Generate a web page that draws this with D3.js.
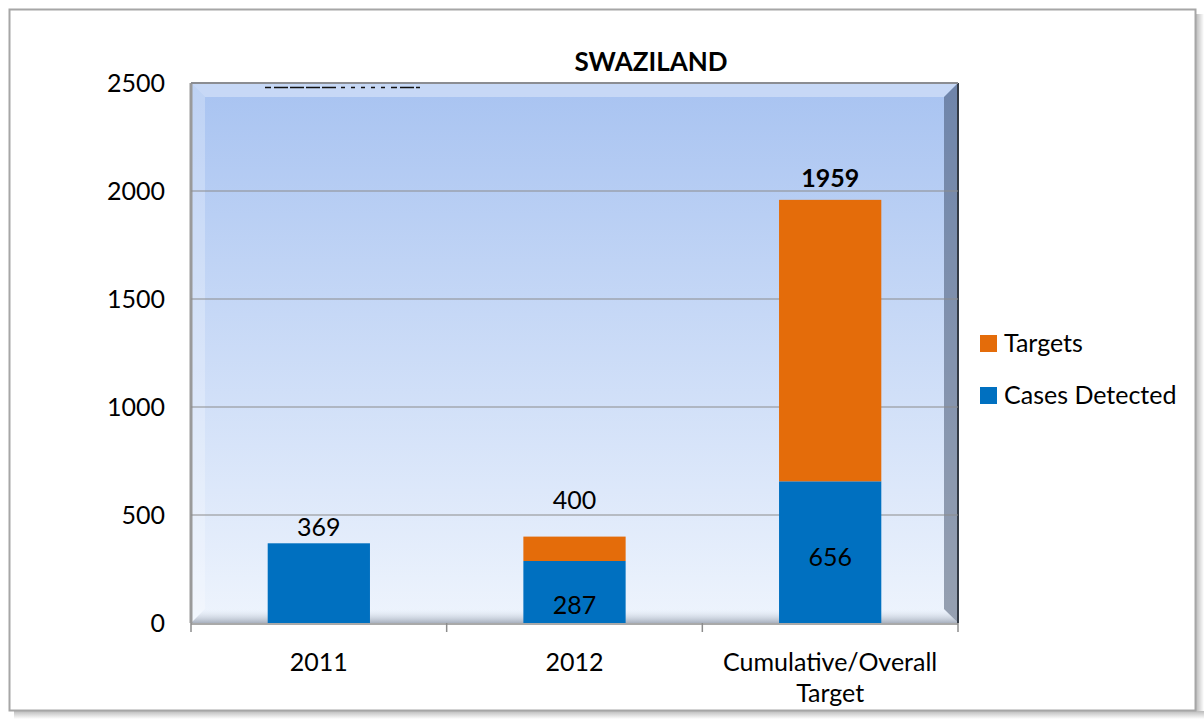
<!DOCTYPE html>
<html><head><meta charset="utf-8">
<script src="https://cdn.jsdelivr.net/npm/d3@7"></script>
<style>body{margin:0;background:#fff}svg{display:block}text{font-family:Lato,"Open Sans",sans-serif}</style>
</head><body><svg id="c" width="1204" height="719"></svg>
<script>
const categories = ["2011", "2012", "Cumulative/Overall Target"];
const casesDetected = [369, 287, 656];
const targets = [0, 113, 1303];
const totalLabels = [null, 400, 1959];
const yTicks = [0, 500, 1000, 1500, 2000, 2500];
const seriesNames = ["Targets", "Cases Detected"];
const colors = {cases: "#0070c0", targets: "#e46c0a"};
const FS = 25;

const svg = d3.select("#c");
const defs = svg.append("defs");
const g1 = defs.append("linearGradient").attr("id","bg").attr("x1",0).attr("y1",0).attr("x2",0).attr("y2",1);
g1.append("stop").attr("offset","0").attr("stop-color","#a8c3f1");
g1.append("stop").attr("offset","1").attr("stop-color","#eef4fd");
const sh = defs.append("linearGradient").attr("id","rsh").attr("x1",0).attr("x2",1);
sh.append("stop").attr("offset","0").attr("stop-color","#bbb");
sh.append("stop").attr("offset","1").attr("stop-color","#fff");
const bsh = defs.append("linearGradient").attr("id","bsh").attr("x1",0).attr("x2",0).attr("y1",0).attr("y2",1);
bsh.append("stop").attr("offset","0").attr("stop-color","#bbb");
bsh.append("stop").attr("offset","1").attr("stop-color","#fff");
const bb = defs.append("linearGradient").attr("id","bbev").attr("x1",0).attr("x2",0).attr("y1",0).attr("y2",1);
bb.append("stop").attr("offset","0").attr("stop-color","#dfe6f0").attr("stop-opacity",0);
bb.append("stop").attr("offset","1").attr("stop-color","#8a93a3").attr("stop-opacity",0.7);

// outer frame with shadow
svg.append("rect").attr("x",1196).attr("y",14).attr("width",8).attr("height",705).attr("fill","url(#rsh)");
svg.append("rect").attr("x",14).attr("y",711).attr("width",1190).attr("height",8).attr("fill","url(#bsh)");
svg.append("rect").attr("x",9.5).attr("y",9.5).attr("width",1186).attr("height",701).attr("fill","#fff").attr("stroke","#a6a6a6").attr("stroke-width",2);

const L = 191, R = 958, T = 83, B = 623;
const x = d3.scaleBand().domain(categories).range([L, R]).paddingInner(0.6).paddingOuter(0.3);
const y = d3.scaleLinear().domain([0, 2500]).range([B, T]);

// plot background with bevel
svg.append("rect").attr("x",L).attr("y",T).attr("width",R-L).attr("height",B-T).attr("fill","url(#bg)");
svg.append("polygon").attr("points",`${L},${T} ${R},${T} ${R-14},${T+14} ${L+14},${T+14}`).attr("fill","#ffffff").attr("opacity",0.35);
svg.append("polygon").attr("points",`${L},${T} ${L+14},${T+14} ${L+14},${B-14} ${L},${B}`).attr("fill","#ffffff").attr("opacity",0.25);
svg.append("polygon").attr("points",`${R},${T} ${R},${B} ${R-14},${B-14} ${R-14},${T+14}`).attr("fill","#2a3a55").attr("opacity",0.45);
svg.append("polygon").attr("points",`${L},${B} ${R},${B} ${R-14},${B-14} ${L+14},${B-14}`).attr("fill","url(#bbev)");
svg.append("line").attr("x1",L).attr("x2",L).attr("y1",T).attr("y2",B).attr("stroke","#9a9a9a").attr("stroke-width",3);
svg.append("line").attr("x1",R).attr("x2",R).attr("y1",T).attr("y2",B).attr("stroke","#333a44").attr("stroke-width",2);
svg.append("line").attr("x1",L).attr("x2",R).attr("y1",T).attr("y2",T).attr("stroke","#8a8f99").attr("stroke-width",2);

// gridlines
svg.append("g").selectAll("line").data(yTicks.filter(d=>d>0)).join("line")
  .attr("x1",L).attr("x2",R).attr("y1",d=>y(d)).attr("y2",d=>y(d)).attr("stroke","#8c8c8c").attr("stroke-width",1.2);

// truncated artifact at top
svg.append("line").attr("x1",265).attr("x2",420).attr("y1",87.5).attr("y2",87.5).attr("stroke","#111").attr("stroke-width",1.5).attr("stroke-dasharray","6,3,14,2,14,2,14,2,14,5,4,6,4,6,4,6,4,6,4,6");

// bars
const stack = categories.map((c,i)=>({c, cases:casesDetected[i], targets:targets[i]}));
const bw = x.bandwidth();
svg.append("g").selectAll("rect").data(stack).join("rect")
  .attr("x",d=>x(d.c)).attr("width",bw).attr("y",d=>y(d.cases)).attr("height",d=>B-y(d.cases)).attr("fill",colors.cases);
svg.append("g").selectAll("rect").data(stack.filter(d=>d.targets>0)).join("rect")
  .attr("x",d=>x(d.c)).attr("width",bw).attr("y",d=>y(d.cases+d.targets)).attr("height",d=>y(d.cases)-y(d.cases+d.targets)).attr("fill",colors.targets);

// axes
const yAxis = d3.axisLeft(y).tickValues(yTicks).tickSize(0).tickPadding(26).tickFormat(d3.format("d"));
const ya = svg.append("g").attr("transform",`translate(${L},0)`).call(yAxis);
ya.select(".domain").remove();
ya.selectAll("text").attr("font-size",FS).attr("fill","#000").attr("dy","0.35em").attr("font-family","Lato,'Open Sans',sans-serif");

const xb = svg.append("g");
xb.append("line").attr("x1",L).attr("x2",R).attr("y1",B+1).attr("y2",B+1).attr("stroke","#8c8c8c").attr("stroke-width",1.5);
const bounds = [L, ...categories.slice(1).map(c=>x(c)-x.step()*x.paddingInner()/2), R];
xb.selectAll("line.t").data(bounds).join("line").attr("class","t")
  .attr("x1",d=>d).attr("x2",d=>d).attr("y1",B).attr("y2",B+9).attr("stroke","#8c8c8c").attr("stroke-width",1.5);
const xlab = {"2011":["2011"],"2012":["2012"],"Cumulative/Overall Target":["Cumulative/Overall","Target"]};
categories.forEach(c=>{
  const t = xb.append("text").attr("x",x(c)+bw/2).attr("y",671).attr("text-anchor","middle").attr("font-size",FS).attr("fill","#000");
  xlab[c].forEach((s,i)=>t.append("tspan").attr("x",x(c)+bw/2).attr("dy",i?31:0).text(s));
});

// data labels
const lab = svg.append("g").attr("font-size",FS).attr("text-anchor","middle").attr("fill","#000");
lab.append("text").attr("x",x(categories[0])+bw/2).attr("y",y(casesDetected[0])-7).text(casesDetected[0]);
lab.append("text").attr("x",x(categories[1])+bw/2).attr("y",y(casesDetected[1]/2)+22).text(casesDetected[1]);
lab.append("text").attr("x",x(categories[2])+bw/2).attr("y",y(casesDetected[2]/2)+14).text(casesDetected[2]);
lab.append("text").attr("x",x(categories[1])+bw/2).attr("y",y(totalLabels[1])-28).text(totalLabels[1]);
lab.append("text").attr("x",x(categories[2])+bw/2).attr("y",y(totalLabels[2])-13).attr("font-weight","bold").text(totalLabels[2]);

// title
svg.append("text").attr("x",651).attr("y",71).attr("text-anchor","middle").attr("font-size",26).attr("font-weight","bold").text("SWAZILAND");

// legend
const leg = svg.append("g");
const legColors = [colors.targets, colors.cases];
seriesNames.forEach((n,i)=>{
  const yy = 335 + i*52;
  leg.append("rect").attr("x",980).attr("y",yy).attr("width",17).attr("height",17).attr("fill",legColors[i]);
  leg.append("text").attr("x",1004).attr("y",yy+17).attr("font-size",FS).text(n);
});
</script></body></html>
